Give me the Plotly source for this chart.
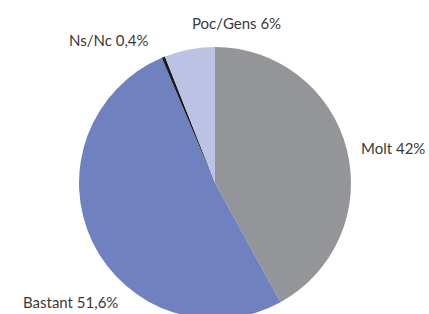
import plotly.graph_objects as go

categories = ["Molt", "Bastant", "Ns/Nc", "Poc/Gens"]
values = [42.0, 51.6, 0.4, 6.0]
value_labels = ["42%", "51,6%", "0,4%", "6%"]
colors = ["#939598", "#7081bf", "#1a1a1a", "#bbc2e3"]

W, H = 429, 314
cx, cy, r = 215, 183, 136
FH = 2 * cy  # figure taller than the window so the pie runs off the bottom edge

fig = go.Figure(go.Pie(
    labels=categories,
    values=values,
    sort=False,
    direction="clockwise",
    rotation=0,
    textinfo="none",
    hoverinfo="label+percent",
    marker=dict(colors=colors, line=dict(width=0)),
    domain=dict(x=[(cx - r) / W, (cx + r) / W], y=[0, 1]),
    showlegend=False,
))

label_pos = {"Molt": (393, 148), "Bastant": (70, 302), "Ns/Nc": (109, 40), "Poc/Gens": (236, 23)}
for c, v in zip(categories, value_labels):
    x, y = label_pos[c]
    fig.add_annotation(x=x / W, y=1 - y / FH, xref="paper", yref="paper",
                       text=f"{c} {v}", showarrow=False,
                       xanchor="center", yanchor="middle",
                       font=dict(family="Lato", size=15, color="#3a3a3a"))

fig.update_layout(width=W, height=FH, margin=dict(l=0, r=0, t=0, b=0),
                  paper_bgcolor="white", plot_bgcolor="white")
fig.write_html(
    "out.html",
    config={"displayModeBar": False},
    post_script="document.body.style.margin='0';document.body.style.overflow='hidden';"
                "document.documentElement.style.overflow='hidden';",
)
